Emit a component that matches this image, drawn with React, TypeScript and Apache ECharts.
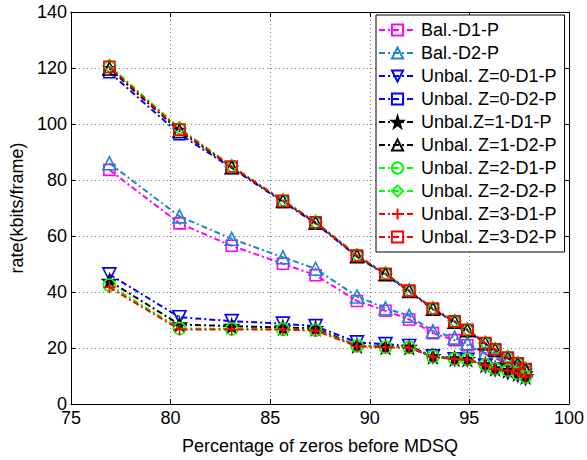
import React, { useEffect, useRef } from "react";
import * as echarts from "echarts";

const xValues = [76.93, 80.45, 83.07, 85.64, 87.28, 89.36, 90.79, 91.98, 93.17, 94.26, 94.9, 95.8, 96.29, 96.93, 97.43, 97.82];

const balD1 = [83.6, 64.5, 56.5, 50.1, 46.0, 36.8, 33.3, 30.2, 25.3, 22.8, 21.0, 17.9, 16.3, 14.4, 12.8, 11.3];
const balD2 = [86.0, 67.0, 59.0, 52.4, 48.3, 38.4, 34.2, 31.5, 26.0, 23.7, 21.7, 18.2, 17.0, 15.0, 13.4, 12.0];
const z0D1 = [46.3, 31.0, 29.6, 28.7, 27.8, 22.0, 21.4, 20.7, 17.0, 16.0, 15.8, 13.6, 12.3, 11.3, 10.3, 9.2];
const z0D2 = [118.5, 96.4, 84.3, 72.2, 64.5, 52.6, 46.2, 40.2, 33.8, 29.2, 26.2, 21.5, 19.2, 16.3, 14.2, 12.2];
const z1D1 = [43.9, 28.4, 27.8, 27.3, 27.0, 20.9, 20.4, 20.3, 17.0, 16.2, 16.0, 14.0, 12.7, 12.0, 10.9, 9.8];
const z1D2 = [119.8, 97.5, 84.6, 72.5, 64.8, 52.8, 46.4, 40.4, 34.0, 29.4, 26.4, 21.7, 19.4, 16.5, 14.4, 12.4];
const z2D1 = [42.5, 27.0, 26.8, 26.7, 26.4, 20.8, 20.3, 20.2, 16.9, 16.1, 15.9, 14.0, 12.6, 12.0, 10.9, 9.7];
const z2D2 = [120.8, 98.5, 85.0, 72.8, 65.0, 53.2, 46.7, 40.6, 34.2, 29.6, 26.6, 21.9, 19.6, 16.7, 14.6, 12.6];
const z3D1 = [41.7, 26.6, 26.6, 26.6, 26.2, 20.6, 20.2, 20.1, 16.8, 16.0, 15.8, 13.9, 12.5, 11.9, 10.8, 9.6];
const z3D2 = [120.4, 98.0, 84.8, 72.6, 64.9, 53.0, 46.5, 40.5, 34.1, 29.5, 26.5, 21.8, 19.5, 16.6, 14.5, 12.5];

const seriesNames = [
  "Bal.-D1-P",
  "Bal.-D2-P",
  "Unbal. Z=0-D1-P",
  "Unbal. Z=0-D2-P",
  "Unbal.Z=1-D1-P",
  "Unbal. Z=1-D2-P",
  "Unbal. Z=2-D1-P",
  "Unbal. Z=2-D2-P",
  "Unbal. Z=3-D1-P",
  "Unbal. Z=3-D2-P",
];
const seriesValues = [balD1, balD2, z0D1, z0D2, z1D1, z1D2, z2D1, z2D2, z3D1, z3D2];

const STAR = "path://M50,0 L61,35 L98,35 L68,57 L79,91 L50,70 L21,91 L32,57 L2,35 L39,35 Z";
const PLUS = "path://M0,5 L10,5 M5,0 L5,10";

const styles = [
  { color: "#ff00ff", symbol: "rect", size: 11, fill: "transparent" },
  { color: "#1a86cc", symbol: "triangle", size: 13, fill: "transparent" },
  { color: "#0000ff", symbol: "triangle", size: 13, fill: "transparent", rotate: 180 },
  { color: "#0000ff", symbol: "rect", size: 11, fill: "transparent" },
  { color: "#000000", symbol: STAR, size: 13, fill: "#000000" },
  { color: "#000000", symbol: "triangle", size: 13, fill: "transparent" },
  { color: "#00ff00", symbol: "circle", size: 12, fill: "transparent" },
  { color: "#00ff00", symbol: "diamond", size: 13, fill: "transparent" },
  { color: "#ff0000", symbol: PLUS, size: 12, fill: "transparent" },
  { color: "#ff0000", symbol: "rect", size: 11, fill: "transparent" },
];

const FONT = "Liberation Sans, Arial, sans-serif";

export default function App() {
  const ref = useRef<HTMLDivElement>(null);
  useEffect(() => {
    const chart = echarts.init(ref.current as HTMLDivElement, null, { renderer: "svg" });
    const series = seriesNames.map((name, i) => {
      const s = styles[i];
      return {
        name,
        type: "line",
        data: xValues.map((x, j) => [x, seriesValues[i][j]]),
        symbol: s.symbol,
        symbolSize: s.size,
        symbolRotate: s.rotate || 0,
        showAllSymbol: true,
        lineStyle: { color: s.color, width: 2, type: [6, 3, 2, 3] },
        itemStyle: { color: s.fill, borderColor: s.color, borderWidth: 1.6 },
        emphasis: { disabled: true },
        z: 2 + i,
      };
    });
    const axisCommonX = {
      type: "value",
      min: 75,
      max: 100,
      interval: 5,
      axisLine: { show: true, onZero: false, lineStyle: { color: "#000", width: 1 } },
      axisTick: { show: true, inside: true, length: 5, lineStyle: { color: "#000" } },
    };
    const axisCommonY = {
      type: "value",
      min: 0,
      max: 140,
      interval: 20,
      axisLine: { show: true, onZero: false, lineStyle: { color: "#000", width: 1 } },
      axisTick: { show: true, inside: true, length: 5, lineStyle: { color: "#000" } },
    };
    const option = {
      animation: false,
      backgroundColor: "#fff",
      textStyle: { fontFamily: FONT },
      grid: { left: 67, top: 12, width: 505, height: 399, containLabel: false },
      xAxis: [
        {
          ...axisCommonX,
          position: "bottom",
          name: "Percentage of zeros before MDSQ",
          nameLocation: "middle",
          nameGap: 33,
          nameTextStyle: { fontSize: 18, color: "#000", fontFamily: FONT },
          axisLabel: { fontSize: 18, color: "#000", margin: 5, fontFamily: FONT },
          splitLine: { show: true, lineStyle: { color: "#777", type: [1, 3], width: 1 } },
        },
        {
          ...axisCommonX,
          position: "top",
          axisLabel: { show: false },
          splitLine: { show: false },
        },
      ],
      yAxis: [
        {
          ...axisCommonY,
          position: "left",
          name: "rate(kbits/frame)",
          nameLocation: "middle",
          nameGap: 40,
          nameTextStyle: { fontSize: 18, color: "#000", fontFamily: FONT },
          axisLabel: { fontSize: 18, color: "#000", margin: 4, fontFamily: FONT },
          splitLine: { show: true, lineStyle: { color: "#777", type: [1, 3], width: 1 } },
        },
        {
          ...axisCommonY,
          position: "right",
          axisLabel: { show: false },
          splitLine: { show: false },
        },
      ],
      legend: {
        orient: "vertical",
        left: 376,
        top: 15,
        data: seriesNames,
        itemWidth: 37,
        itemHeight: 14,
        itemGap: 5,
        padding: [6, 8, 6, 2],
        backgroundColor: "#fff",
        borderColor: "#000",
        borderWidth: 1,
        borderRadius: 0,
        selectedMode: false,
        textStyle: { fontSize: 18, color: "#000", fontFamily: FONT, lineHeight: 18 },
      },
      series,
    };
    chart.setOption(option as any);
    return () => chart.dispose();
  }, []);
  return (
    <div
      ref={ref}
      style={{ position: "absolute", left: 0, top: 0, width: 587, height: 460, background: "#fff" }}
    />
  );
}
